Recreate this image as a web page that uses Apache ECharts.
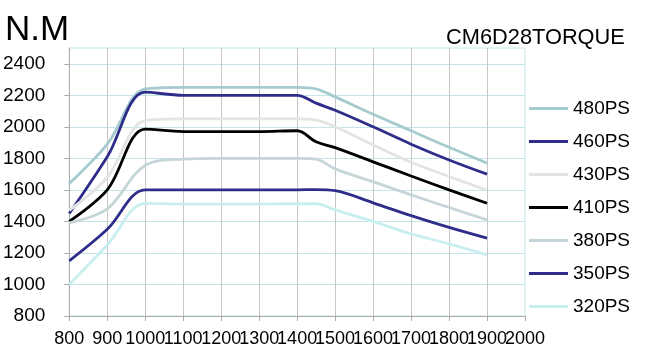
<!DOCTYPE html>
<html>
<head>
<meta charset="utf-8">
<script src="https://cdn.jsdelivr.net/npm/echarts@6/dist/echarts.min.js"></script>
<style>
  html, body { margin: 0; padding: 0; background: #fff; }
  #chart { width: 650px; height: 352px; }
</style>
</head>
<body>
<div id="chart"></div>
<script>
// ---------------------- Data ----------------------
let rpm = [800, 900, 1000, 1100, 1200, 1300, 1400, 1450, 1500, 1600, 1700, 1800, 1900];
let ps480 = [1640, 1890, 2240, 2250, 2250, 2250, 2250, 2240, 2190, 2080, 1975, 1870, 1770];
let ps460 = [1450, 1810, 2220, 2200, 2200, 2200, 2200, 2150, 2105, 2000, 1890, 1790, 1700];
let ps430 = [1470, 1680, 2040, 2050, 2050, 2050, 2050, 2043, 2000, 1885, 1775, 1685, 1598];
let ps410 = [1400, 1600, 1985, 1970, 1970, 1970, 1975, 1905, 1868, 1778, 1688, 1600, 1515];
let ps380 = [1390, 1480, 1755, 1795, 1800, 1800, 1800, 1795, 1733, 1652, 1568, 1488, 1410];
let ps350 = [1150, 1350, 1600, 1600, 1600, 1600, 1600, 1602, 1595, 1518, 1437, 1362, 1294];
let ps320 = [1000, 1250, 1515, 1510, 1510, 1510, 1512, 1512, 1473, 1400, 1321, 1258, 1188];

let series_names = ["480PS", "460PS", "430PS", "410PS", "380PS", "350PS", "320PS"];
let series_values = [ps480, ps460, ps430, ps410, ps380, ps350, ps320];
let series_colors = ["#a6cbce", "#2e2e8a", "#e4e4e4", "#000000", "#c6d5d7", "#2e2e8a", "#c9eef0"];

let x_ticks = [800, 900, 1000, 1100, 1200, 1300, 1400, 1500, 1600, 1700, 1800, 1900, 2000];
let y_ticks = [800, 1000, 1200, 1400, 1600, 1800, 2000, 2200, 2400];

// --------------------- Chart ----------------------
let chart = echarts.init(document.getElementById("chart"), null, {renderer: "canvas"});
let font = "'Liberation Sans', Arial, sans-serif";

let series_list = [];
for (let i = 0; i < series_names.length; i++) {
    series_list.push({
        name: series_names[i],
        type: "line",
        smooth: 0.35,
        symbol: "none",
        lineStyle: {width: 2.8, color: series_colors[i]},
        itemStyle: {color: series_colors[i]},
        data: rpm.map(function (r, j) { return [r, series_values[i][j]]; })
    });
}

// labels are split over two axes so that the overlapping 1900 / 2000 pair both stay visible
let x_label_style = {fontFamily: font, fontSize: 18, color: "#000", margin: 14, hideOverlap: false};

let option = {
    backgroundColor: "#fff",
    animation: false,
    title: [
        {text: "N.M", left: 5, top: 13, padding: 0,
         textStyle: {fontFamily: font, fontSize: 35, fontWeight: "normal", color: "#000"}},
        {text: "CM6D28TORQUE", left: 446, top: 27, padding: 0,
         textStyle: {fontFamily: font, fontSize: 21.8, fontWeight: "normal", color: "#000"}}
    ],
    grid: {
        left: 69, right: 125, top: 48, bottom: 36,
        show: true, borderColor: "#c4e6e8", borderWidth: 1, backgroundColor: "transparent"
    },
    legend: {
        data: series_names,
        orient: "vertical",
        left: 529,
        top: 99,
        padding: 0,
        icon: "rect",
        itemWidth: 39,
        itemHeight: 3,
        itemGap: 14,
        textStyle: {fontFamily: font, fontSize: 19, color: "#000"}
    },
    xAxis: [
        {
            type: "value",
            min: 800,
            max: 2000,
            interval: 100,
            axisLine: {lineStyle: {color: "#aaaaaa", width: 1}},
            axisTick: {show: true, length: 5, lineStyle: {color: "#aaaaaa"}},
            axisLabel: Object.assign({}, x_label_style, {
                showMinLabel: true, showMaxLabel: true,
                formatter: function (v) { return (v !== 1900 && x_ticks.indexOf(v) >= 0) ? String(v) : ""; }
            }),
            splitLine: {show: true, showMinLine: false, showMaxLine: false, lineStyle: {color: "#c6c6c6", width: 1}}
        },
        {
            type: "value",
            position: "bottom",
            min: 800,
            max: 2000,
            interval: 100,
            axisLine: {show: false},
            axisTick: {show: false},
            splitLine: {show: false},
            axisLabel: Object.assign({}, x_label_style, {
                showMinLabel: true, showMaxLabel: true,
                formatter: function (v) { return v === 1900 ? "1900" : ""; }
            })
        }
    ],
    yAxis: {
        type: "value",
        min: 800,
        max: 2500,
        interval: 200,
        axisLine: {show: true, lineStyle: {color: "#aaaaaa", width: 1}},
        axisTick: {show: true, length: 5, lineStyle: {color: "#aaaaaa"}},
        axisLabel: {
            fontFamily: font, fontSize: 19, color: "#000", margin: 24,
            showMaxLabel: false,
            formatter: function (v) { return y_ticks.indexOf(v) >= 0 ? String(v) : ""; }
        },
        splitLine: {show: true, showMinLine: false, showMaxLine: false, lineStyle: {color: "#c4e6e8", width: 1}}
    },
    series: series_list
};
chart.setOption(option);
</script>
</body>
</html>
